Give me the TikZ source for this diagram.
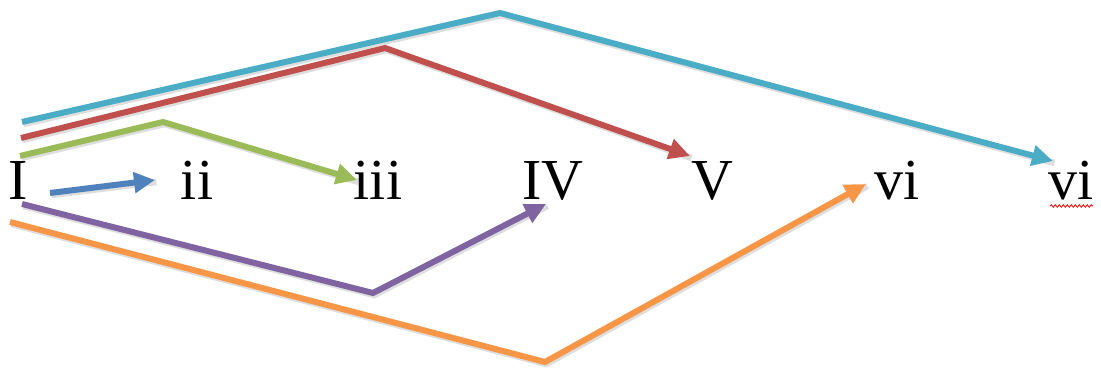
\documentclass[tikz,border=0pt]{standalone}
\usepackage{fontspec}
\setmainfont{Liberation Serif}
\usetikzlibrary{arrows.meta,decorations.pathmorphing}
\definecolor{cblue}{HTML}{4F81BD}
\definecolor{cgreen}{HTML}{9BBB59}
\definecolor{cred}{HTML}{C0504D}
\definecolor{cteal}{HTML}{4BACC6}
\definecolor{cpurple}{HTML}{8064A2}
\definecolor{corange}{HTML}{F79646}
\tikzset{
  lbl/.style={anchor=base, inner sep=0pt, font=\fontsize{58}{58}\selectfont},
  conn/.style={line width=6pt, line join=miter, -{Triangle[length=21pt,width=20pt]}},
  shadow/.style={line width=6.5pt, draw=black, opacity=0.13, line join=miter, transform canvas={shift={(1.5pt,-2pt)}}}
}
\begin{document}
\begin{tikzpicture}[x=1pt,y=-1pt]
\useasboundingbox (0,0) rectangle (1101,371);
% labels
\node[lbl] (nI)   at (18,200)   {I};
\node[lbl] (nii)  at (197,200)  {ii};
\node[lbl] (niii) at (378,200)  {iii};
\node[lbl] (nIV)  at (553,200)  {IV};
\node[lbl] (nV)   at (712,200)  {V};
\node[lbl] (nvi)  at (897,200)  {vi};
\node[lbl] (nvii) at (1071,200) {vi};
% spell-check underline
\coordinate (sqA) at (1050,206);
\coordinate (sqB) at (1093,206);
\draw[red, line width=0.8pt, decorate, decoration={snake, amplitude=1.3pt, segment length=4pt}] (sqA) -- (sqB);
% connector points
\coordinate (bS) at (50,193);   \coordinate (bE) at (155,180);
\coordinate (gS) at (20,156);   \coordinate (gM) at (163,122); \coordinate (gE) at (357,180);
\coordinate (rS) at (21,138);   \coordinate (rM) at (385,48);  \coordinate (rE) at (690,156);
\coordinate (tS) at (22,122);   \coordinate (tM) at (500,13);  \coordinate (tE) at (1053,161);
\coordinate (pS) at (22,204);   \coordinate (pM) at (373,293); \coordinate (pE) at (546,204);
\coordinate (oS) at (10,222);   \coordinate (oM) at (545,362); \coordinate (oE) at (866,184);
% shadows
\foreach \a/\b/\c in {gS/gM/gE, rS/rM/rE, tS/tM/tE, pS/pM/pE, oS/oM/oE}{
  \draw[shadow] (\a) -- (\b) -- (\c);
}
\draw[shadow] (bS) -- (bE);
% connectors
\draw[conn, color=corange] (oS) -- (oM) -- (oE);
\draw[conn, color=cpurple] (pS) -- (pM) -- (pE);
\draw[conn, color=cteal] (tS) -- (tM) -- (tE);
\draw[conn, color=cred] (rS) -- (rM) -- (rE);
\draw[conn, color=cgreen] (gS) -- (gM) -- (gE);
\draw[conn, color=cblue] (bS) -- (bE);
\end{tikzpicture}
\end{document}
